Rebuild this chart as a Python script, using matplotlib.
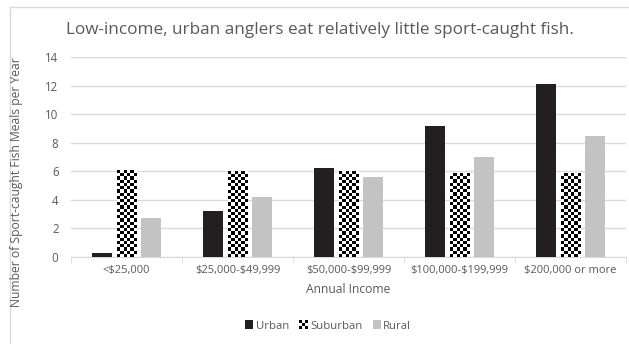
import numpy as np
import matplotlib
matplotlib.use("Agg")
import matplotlib.pyplot as plt
from matplotlib.patches import Rectangle
from matplotlib.legend_handler import HandlerBase
from matplotlib.lines import Line2D

categories = ["<$25,000", "$25,000-$49,999", "$50,000-$99,999", "$100,000-$199,999", "$200,000 or more"]
urban = [0.3, 3.2, 6.2, 9.2, 12.1]
suburban = [6.1, 6.0, 6.0, 5.9, 5.9]
rural = [2.7, 4.2, 5.6, 7.0, 8.5]
series_names = ["Urban", "Suburban", "Rural"]
title = "Low-income, urban anglers eat relatively little sport-caught fish."
ylabel = "Number of Sport-caught Fish Meals per Year"
xlabel = "Annual Income"

plt.rcParams['font.family'] = ['Open Sans', 'DejaVu Sans']
plt.rcParams['text.parse_math'] = False
TXT = '#595959'
URBAN_C = '#231f20'
RURAL_C = '#c3c3c3'

W, H = 629, 344
fig = plt.figure(figsize=(W / 100, H / 100), dpi=100)
ax = fig.add_axes([71 / W, 87 / H, (626 - 71) / W, 200 / H])

x = np.arange(len(categories))
bw = 0.18
step = 0.22
ax.bar(x - step, urban, bw, color=URBAN_C, zorder=3)
sub_bars = ax.bar(x, suburban, bw, color='white', zorder=3)
ax.bar(x + step, rural, bw, color=RURAL_C, zorder=3)

ax.set_xlim(-0.5, len(categories) - 0.5)
ax.set_ylim(0, 14)
ax.set_yticks(range(0, 15, 2))
ax.set_xticks(x)
ax.set_xticklabels(categories)
ax.grid(axis='y', color='#d9d9d9', linewidth=1, zorder=0)
for s in ['top', 'right', 'left']:
    ax.spines[s].set_visible(False)
ax.spines['bottom'].set_color('#d9d9d9')
ax.tick_params(axis='y', length=0, colors=TXT, labelsize=8.3, pad=9)
ax.tick_params(axis='x', length=0, colors=TXT, labelsize=8.0, pad=6)
ax.set_xticks(np.arange(-0.5, len(categories), 1.0), minor=True)
ax.tick_params(axis='x', which='minor', length=4, color='#d9d9d9')

# checker texture for suburban bars
px_per_x = (626 - 71) / 5.0
px_per_y = 200 / 14.0
sq = 3.2
for b in sub_bars:
    bx, by, bwid, bh = b.get_x(), b.get_y(), b.get_width(), b.get_height()
    nx = max(1, int(round(bwid * px_per_x / sq)))
    ny = max(1, int(round(bh * px_per_y / sq)))
    ii, jj = np.indices((ny, nx))
    tex = ((ii + jj) % 2).astype(float)
    im = ax.imshow(tex, cmap='gray', vmin=0, vmax=1, interpolation='nearest',
                   extent=[bx, bx + bwid, by, by + ny * sq / px_per_y], aspect='auto',
                   origin='lower', zorder=3.5)
    im.set_clip_path(b)
ax.set_xlim(-0.5, len(categories) - 0.5)
ax.set_ylim(0, 14)

ax.set_xlabel(xlabel, color=TXT, fontsize=8.7, labelpad=5)
fig.text(17 / W, 1 - 182 / H, ylabel, rotation=90, ha='center', va='center', color=TXT, fontsize=8.7)
fig.text(320 / W, 1 - 30 / H, title, ha='center', va='center', color=TXT, fontsize=12.3)

# chart border
fig.add_artist(Line2D([10 / W, 10 / W], [0, 1 - 7 / H], transform=fig.transFigure, color='#d9d9d9', lw=1))
fig.add_artist(Line2D([10 / W, 1], [1 - 7 / H, 1 - 7 / H], transform=fig.transFigure, color='#d9d9d9', lw=1))


class CheckerHandler(HandlerBase):
    def create_artists(self, legend, orig_handle, xdescent, ydescent, width, height, fontsize, trans):
        s = min(width, height)
        x0 = -xdescent + (width - s) / 2
        y0 = -ydescent + (height - s) / 2
        arts = [Rectangle((x0, y0), s, s, facecolor='white', edgecolor='none', transform=trans)]
        n = 3
        c = s / n
        for i in range(n):
            for j in range(n):
                if (i + j) % 2 == 0:
                    arts.append(Rectangle((x0 + j * c, y0 + i * c), c, c, facecolor='black',
                                          edgecolor='none', transform=trans))
        return arts


class SquareHandler(HandlerBase):
    def create_artists(self, legend, orig_handle, xdescent, ydescent, width, height, fontsize, trans):
        s = min(width, height)
        x0 = -xdescent + (width - s) / 2
        y0 = -ydescent + (height - s) / 2
        return [Rectangle((x0, y0), s, s, facecolor=orig_handle.get_facecolor(), edgecolor='none', transform=trans)]


h_u = Rectangle((0, 0), 1, 1, facecolor=URBAN_C)
h_s = Rectangle((0, 0), 1, 1, facecolor='white')
h_r = Rectangle((0, 0), 1, 1, facecolor=RURAL_C)
leg = fig.legend([h_u, h_s, h_r], series_names, loc='center', bbox_to_anchor=(328 / W, 1 - 326 / H),
                 ncol=3, frameon=False, fontsize=8.2, handlelength=0.75, handleheight=0.75,
                 handletextpad=0.2, columnspacing=0.9, borderpad=0, borderaxespad=0,
                 handler_map={h_u: SquareHandler(), h_s: CheckerHandler(), h_r: SquareHandler()})
for t in leg.get_texts():
    t.set_color(TXT)

fig.savefig("out.png", dpi=100)
